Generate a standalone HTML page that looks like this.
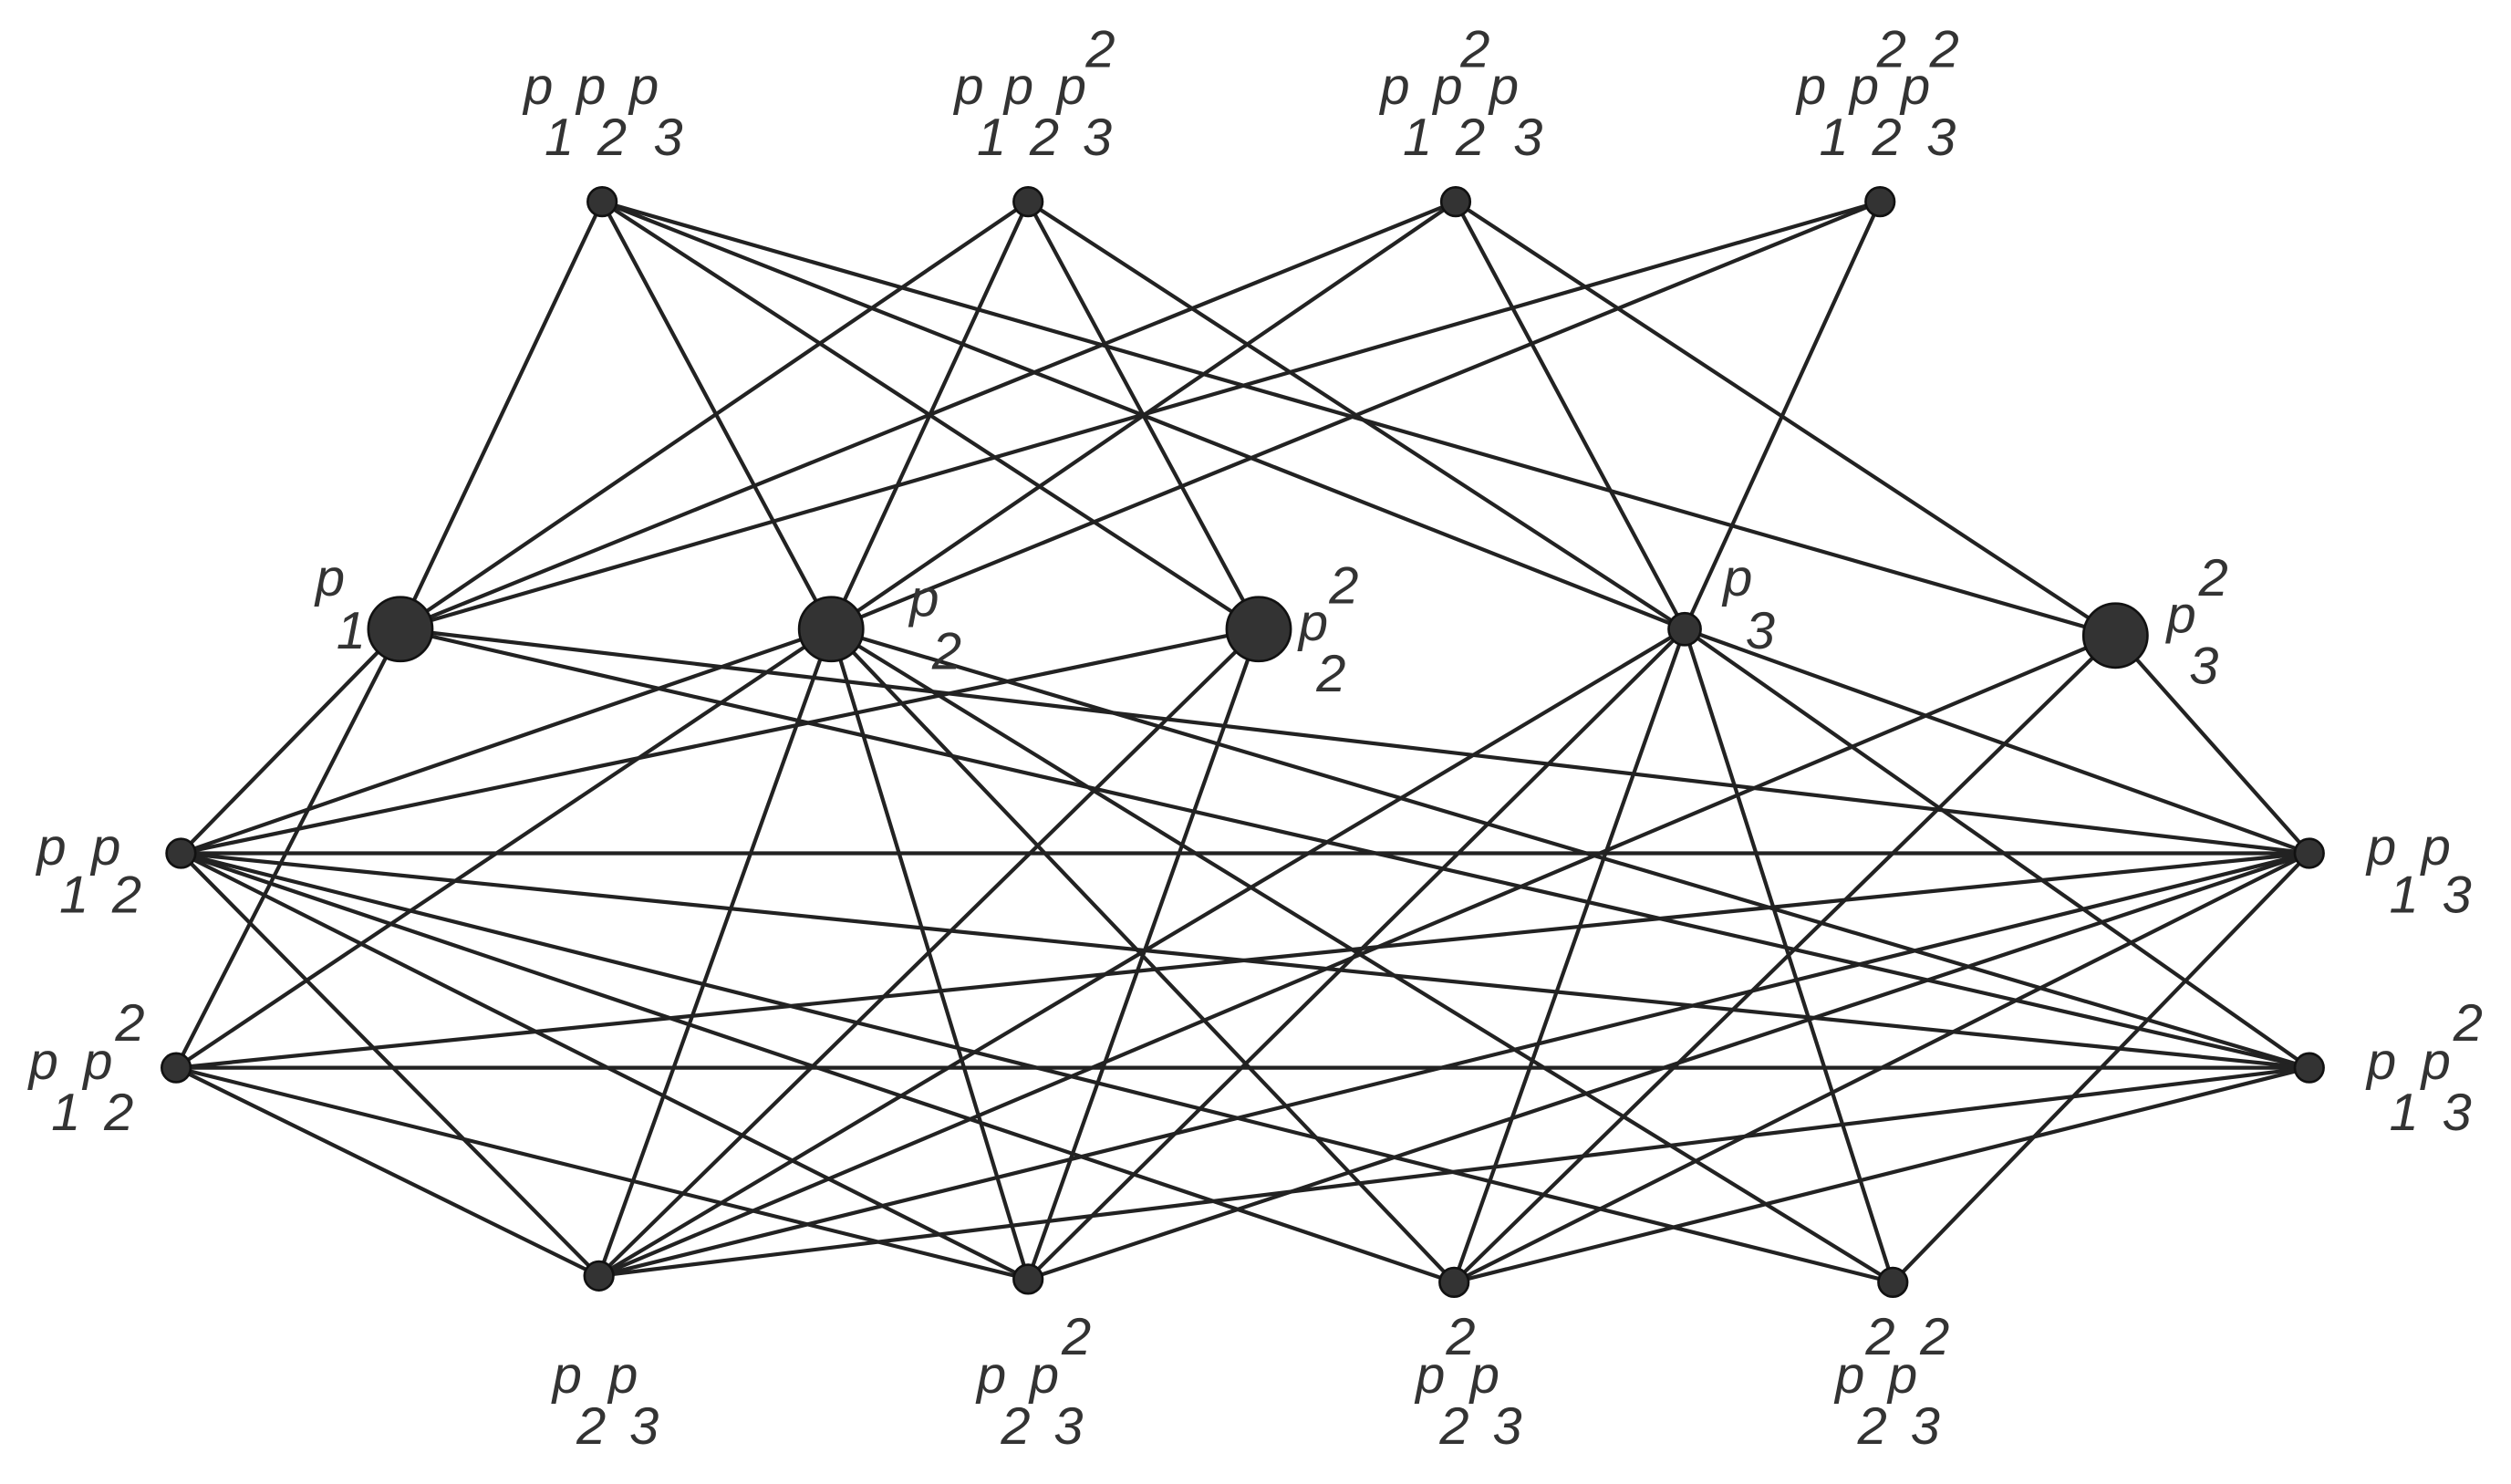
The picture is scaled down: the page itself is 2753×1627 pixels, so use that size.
<!DOCTYPE html>
<html><head><style>
html,body{margin:0;padding:0;background:#fff;}
svg{display:block;}
text{font-family:"Liberation Sans",sans-serif;font-style:italic;font-size:33px;fill:#333;}
</style></head><body>
<svg width="2753" height="1627" viewBox="0 0 1568 927" preserveAspectRatio="none">
<g stroke="#222" stroke-width="2.4" fill="none">
<line x1="376" y1="126" x2="250" y2="393"/><line x1="376" y1="126" x2="519" y2="393"/><line x1="376" y1="126" x2="786" y2="393"/><line x1="376" y1="126" x2="1052" y2="393"/><line x1="376" y1="126" x2="1321" y2="397"/>
<line x1="642" y1="126" x2="250" y2="393"/><line x1="642" y1="126" x2="519" y2="393"/><line x1="642" y1="126" x2="786" y2="393"/><line x1="642" y1="126" x2="1052" y2="393"/>
<line x1="909" y1="126" x2="250" y2="393"/><line x1="909" y1="126" x2="519" y2="393"/><line x1="909" y1="126" x2="1052" y2="393"/><line x1="909" y1="126" x2="1321" y2="397"/>
<line x1="1174" y1="126" x2="250" y2="393"/><line x1="1174" y1="126" x2="519" y2="393"/><line x1="1174" y1="126" x2="1052" y2="393"/>
<line x1="250" y1="393" x2="113" y2="533"/><line x1="250" y1="393" x2="110" y2="667"/><line x1="250" y1="393" x2="1442" y2="533"/><line x1="250" y1="393" x2="1442" y2="667"/>
<line x1="519" y1="393" x2="113" y2="533"/><line x1="519" y1="393" x2="110" y2="667"/><line x1="519" y1="393" x2="374" y2="797"/><line x1="519" y1="393" x2="642" y2="799"/><line x1="519" y1="393" x2="908" y2="801"/><line x1="519" y1="393" x2="1182" y2="801"/><line x1="519" y1="393" x2="1442" y2="667"/>
<line x1="786" y1="393" x2="113" y2="533"/><line x1="786" y1="393" x2="374" y2="797"/><line x1="786" y1="393" x2="642" y2="799"/>
<line x1="1052" y1="393" x2="374" y2="797"/><line x1="1052" y1="393" x2="642" y2="799"/><line x1="1052" y1="393" x2="908" y2="801"/><line x1="1052" y1="393" x2="1182" y2="801"/><line x1="1052" y1="393" x2="1442" y2="533"/><line x1="1052" y1="393" x2="1442" y2="667"/>
<line x1="1321" y1="397" x2="1442" y2="533"/><line x1="1321" y1="397" x2="374" y2="797"/><line x1="1321" y1="397" x2="908" y2="801"/>
<line x1="113" y1="533" x2="1442" y2="533"/><line x1="113" y1="533" x2="1442" y2="667"/><line x1="113" y1="533" x2="374" y2="797"/><line x1="113" y1="533" x2="642" y2="799"/><line x1="113" y1="533" x2="908" y2="801"/><line x1="113" y1="533" x2="1182" y2="801"/>
<line x1="110" y1="667" x2="1442" y2="533"/><line x1="110" y1="667" x2="1442" y2="667"/><line x1="110" y1="667" x2="374" y2="797"/><line x1="110" y1="667" x2="642" y2="799"/>
<line x1="1442" y1="533" x2="374" y2="797"/><line x1="1442" y1="533" x2="642" y2="799"/><line x1="1442" y1="533" x2="908" y2="801"/><line x1="1442" y1="533" x2="1182" y2="801"/>
<line x1="1442" y1="667" x2="374" y2="797"/><line x1="1442" y1="667" x2="908" y2="801"/>
</g>
<g fill="#333" stroke="#111" stroke-width="1.5">
<circle cx="376" cy="126" r="9"/><circle cx="642" cy="126" r="9"/><circle cx="909" cy="126" r="9"/><circle cx="1174" cy="126" r="9"/>
<circle cx="250" cy="393" r="20"/><circle cx="519" cy="393" r="20"/><circle cx="786" cy="393" r="20"/><circle cx="1052" cy="393" r="10"/><circle cx="1321" cy="397" r="20"/>
<circle cx="113" cy="533" r="9"/><circle cx="110" cy="667" r="9"/><circle cx="1442" cy="533" r="9"/><circle cx="1442" cy="667" r="9"/>
<circle cx="374" cy="797" r="9"/><circle cx="642" cy="799" r="9"/><circle cx="908" cy="801" r="9"/><circle cx="1182" cy="801" r="9"/>
</g>
<g>
<text x="327" y="65">p</text><text x="360" y="65">p</text><text x="393" y="65">p</text>
<text x="340" y="97">1</text><text x="373" y="97">2</text><text x="408" y="97">3</text>
<text x="596" y="65">p</text><text x="627" y="65">p</text><text x="660" y="65">p</text><text x="678" y="42">2</text>
<text x="610" y="97">1</text><text x="643" y="97">2</text><text x="676" y="97">3</text>
<text x="862" y="65">p</text><text x="895" y="65">p</text><text x="930" y="65">p</text><text x="912" y="42">2</text>
<text x="876" y="97">1</text><text x="909" y="97">2</text><text x="945" y="97">3</text>
<text x="1122" y="65">p</text><text x="1155" y="65">p</text><text x="1187" y="65">p</text><text x="1172" y="42">2</text><text x="1205" y="42">2</text>
<text x="1136" y="97">1</text><text x="1169" y="97">2</text><text x="1203" y="97">3</text>
<text x="197" y="372">p</text><text x="210" y="405">1</text>
<text x="568" y="385">p</text><text x="582" y="418">2</text>
<text x="811" y="400">p</text><text x="830" y="377">2</text><text x="822" y="432">2</text>
<text x="1076" y="372">p</text><text x="1090" y="405">3</text>
<text x="1353" y="395">p</text><text x="1373" y="372">2</text><text x="1367" y="427">3</text>
<text x="23" y="540">p</text><text x="57" y="540">p</text><text x="37" y="570">1</text><text x="70" y="570">2</text>
<text x="18" y="674">p</text><text x="52" y="674">p</text><text x="72" y="650">2</text><text x="32" y="706">1</text><text x="65" y="706">2</text>
<text x="1478" y="540">p</text><text x="1512" y="540">p</text><text x="1492" y="570">1</text><text x="1525" y="570">3</text>
<text x="1478" y="674">p</text><text x="1512" y="674">p</text><text x="1532" y="650">2</text><text x="1492" y="706">1</text><text x="1525" y="706">3</text>
<text x="345" y="870">p</text><text x="380" y="870">p</text><text x="360" y="902">2</text><text x="393" y="902">3</text>
<text x="610" y="870">p</text><text x="643" y="870">p</text><text x="663" y="846">2</text><text x="625" y="902">2</text><text x="658" y="902">3</text>
<text x="884" y="870">p</text><text x="918" y="870">p</text><text x="903" y="846">2</text><text x="899" y="902">2</text><text x="932" y="902">3</text>
<text x="1146" y="870">p</text><text x="1179" y="870">p</text><text x="1165" y="846">2</text><text x="1199" y="846">2</text><text x="1160" y="902">2</text><text x="1193" y="902">3</text>
</g>
</svg>
</body></html>
